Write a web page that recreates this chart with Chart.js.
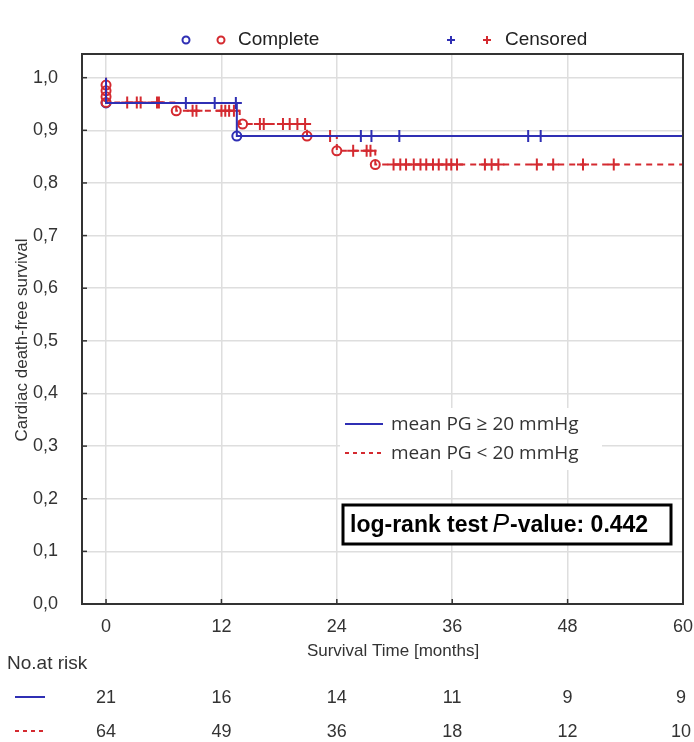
<!DOCTYPE html>
<html>
<head>
<meta charset="utf-8">
<script src="https://cdn.jsdelivr.net/npm/chart.js@4.4.1/dist/chart.umd.min.js"></script>
<style>
  body { margin: 0; background: #fff; }
  #wrap { position: relative; width: 694px; height: 742px; }
</style>
</head>
<body>
<div id="wrap"><canvas id="km"></canvas></div>
<script>
var ctx = document.getElementById("km").getContext('2d');

// Kaplan-Meier steps (time in months, survival)
var blueTimes = [0, 0, 13.6, 60];
var blueSurv = [1.0, 0.952, 0.889, 0.889];
var redTimes = [0, 0, 7.3, 13.9, 20.9, 24.0, 28.0, 60];
var redSurv = [1.0, 0.953, 0.937, 0.912, 0.889, 0.861, 0.835, 0.835];

// censored times
var blueCensor = [8.3, 11.3, 13.5, 26.5, 27.6, 30.5, 43.9, 45.2];
var redCensor = [2.2, 3.2, 3.6, 5.3, 5.5, 9.0, 9.4, 12.0, 12.4, 12.8, 13.3,
    16.0, 16.4, 18.4, 19.1, 19.9, 20.7, 23.3, 25.7, 27.1, 27.5,
    29.9, 30.6, 31.2, 32.0, 32.7, 33.3, 34.0, 34.6, 35.4, 35.9, 36.5,
    39.4, 40.1, 40.8, 44.8, 46.5, 49.6, 52.8];

// complete (event) markers
var blueEventX = [0, 13.6];
var blueEventY = [0.952, 0.889];
var redEventX = [0, 0, 0, 0, 7.3, 14.2, 20.9, 24.0, 28.0];
var redEventY = [0.986, 0.975, 0.964, 0.953, 0.937, 0.912, 0.889, 0.861, 0.835];

// axis ticks and at-risk table
var xTicks = [0, 12, 24, 36, 48, 60];
var yTicks = [0, 0.1, 0.2, 0.3, 0.4, 0.5, 0.6, 0.7, 0.8, 0.9, 1.0];
var riskBlue = [21, 16, 14, 11, 9, 9];
var riskRed = [64, 49, 36, 18, 12, 10];

var BLUE = '#2f2fb4';
var RED = '#d42a30';
var FONT = "'Liberation Sans', Arial, sans-serif";

function pts(xs, ys) { return xs.map(function (x, i) { return {x: x, y: ys[i]}; }); }
function levelAt(times, surv, t) { // survival level on the step curve at time t
    var v = surv[0];
    for (var i = 0; i < times.length; i++) { if (times[i] <= t) v = surv[i]; }
    return v;
}
function censorPts(cs, times, surv) { return cs.map(function (t) { return {x: t, y: levelAt(times, surv, t)}; }); }

var extras = {
    id: 'extras',
    afterDraw: function (chart) {
        var c = chart.ctx, a = chart.chartArea;
        var xs = chart.scales.x, ys = chart.scales.y;
        c.save();
        // frame
        c.strokeStyle = '#333'; c.lineWidth = 2;
        c.strokeRect(a.left, a.top, a.right - a.left, a.bottom - a.top);
        // inward ticks
        c.lineWidth = 1.5;
        xTicks.forEach(function (t) {
            var px = xs.getPixelForValue(t);
            c.beginPath(); c.moveTo(px, a.bottom); c.lineTo(px, a.bottom - 5); c.stroke();
        });
        yTicks.forEach(function (t) {
            var py = ys.getPixelForValue(t);
            c.beginPath(); c.moveTo(a.left, py); c.lineTo(a.left + 5, py); c.stroke();
        });

        // top legend
        c.lineWidth = 2;
        c.strokeStyle = BLUE; c.beginPath(); c.arc(186, 40, 3.5, 0, Math.PI * 2); c.stroke();
        c.strokeStyle = RED; c.beginPath(); c.arc(221, 40, 3.5, 0, Math.PI * 2); c.stroke();
        c.strokeStyle = BLUE; c.beginPath(); c.moveTo(447, 40); c.lineTo(455, 40); c.moveTo(451, 36); c.lineTo(451, 44); c.stroke();
        c.strokeStyle = RED; c.beginPath(); c.moveTo(483, 40); c.lineTo(491, 40); c.moveTo(487, 36); c.lineTo(487, 44); c.stroke();
        c.fillStyle = '#222'; c.font = '19px ' + FONT; c.textBaseline = 'middle'; c.textAlign = 'left';
        c.fillText('Complete', 238, 40);
        c.fillText('Censored', 505, 40);

        // inner legend
        c.fillStyle = '#fff'; c.fillRect(340, 408, 262, 62);
        c.lineWidth = 2; c.strokeStyle = BLUE;
        c.beginPath(); c.moveTo(345, 424); c.lineTo(383, 424); c.stroke();
        c.strokeStyle = RED; c.setLineDash([4, 4]);
        c.beginPath(); c.moveTo(345, 453); c.lineTo(383, 453); c.stroke();
        c.setLineDash([]);
        c.fillStyle = '#333'; c.font = "19px 'Open Sans', sans-serif";
        c.fillText('mean PG \u2265 20 mmHg', 391, 425);
        c.fillText('mean PG < 20 mmHg', 391, 454);

        // p-value box
        c.fillStyle = '#fff'; c.fillRect(343, 505, 328, 39);
        c.strokeStyle = '#000'; c.lineWidth = 3; c.strokeRect(343, 505, 328, 39);
        c.fillStyle = '#000'; c.textAlign = 'left';
        var tx = 350;
        c.font = 'bold 23px ' + FONT;
        c.fillText('log-rank test ', tx, 526); tx += c.measureText('log-rank test ').width - 2;
        c.font = 'italic 25px ' + FONT;
        c.fillText('P', tx, 525); tx += c.measureText('P').width + 1;
        c.font = 'bold 23px ' + FONT;
        c.fillText('-value: 0.442', tx, 526);

        // axis titles
        c.fillStyle = '#333'; c.font = '17px ' + FONT; c.textAlign = 'center';
        c.fillText('Survival Time [months]', 393, 651);
        c.save(); c.translate(22, 340); c.rotate(-Math.PI / 2);
        c.fillText('Cardiac death-free survival', 0, 0);
        c.restore();

        // number at risk
        c.textAlign = 'left'; c.font = '19px ' + FONT;
        c.fillText('No.at risk', 7, 664);
        c.lineWidth = 2; c.strokeStyle = BLUE;
        c.beginPath(); c.moveTo(15, 697); c.lineTo(45, 697); c.stroke();
        c.strokeStyle = RED; c.setLineDash([4, 4]);
        c.beginPath(); c.moveTo(15, 731); c.lineTo(45, 731); c.stroke();
        c.setLineDash([]);
        c.textAlign = 'center'; c.font = '18px ' + FONT;
        xTicks.forEach(function (t, i) {
            var px = Math.min(xs.getPixelForValue(t), 681);
            c.fillText(String(riskBlue[i]), px, 698);
            c.fillText(String(riskRed[i]), px, 732);
        });
        c.restore();
    }
};

var radar = new Chart(ctx, {
    type: 'scatter',
    data: {
        datasets: [
            {data: pts(blueTimes, blueSurv), showLine: true, stepped: true, borderColor: BLUE, borderWidth: 2, pointRadius: 0, fill: false},
            {data: pts(redTimes, redSurv), showLine: true, stepped: true, borderColor: RED, borderWidth: 2, borderDash: [6, 5], pointRadius: 0, fill: false},
            {data: censorPts(blueCensor, blueTimes, blueSurv), showLine: false, pointStyle: 'cross', pointRadius: 6, borderColor: BLUE, borderWidth: 2},
            {data: censorPts(redCensor, redTimes, redSurv), showLine: false, pointStyle: 'cross', pointRadius: 6, borderColor: RED, borderWidth: 2},
            {data: pts(redEventX, redEventY), showLine: false, pointStyle: 'circle', pointRadius: 4.5, borderColor: RED, backgroundColor: 'rgba(0,0,0,0)', borderWidth: 2},
            {data: pts(blueEventX, blueEventY), showLine: false, pointStyle: 'circle', pointRadius: 4.5, borderColor: BLUE, backgroundColor: 'rgba(0,0,0,0)', borderWidth: 2}
        ]
    },
    options: {
        responsive: true,
        maintainAspectRatio: false,
        animation: false,
        layout: {padding: {top: 54, right: 0, bottom: 0, left: 0}},
        plugins: {legend: {display: false}, tooltip: {enabled: false}},
        scales: {
            x: {
                type: 'linear', min: -2.5, max: 60,
                afterFit: function (s) { s.height = 138; s.paddingRight = 11; },
                afterBuildTicks: function (s) { s.ticks = xTicks.map(function (v) { return {value: v}; }); },
                grid: {color: '#dedede', lineWidth: 1.5, drawTicks: false},
                border: {display: false},
                ticks: {padding: 12, color: '#333', font: {family: FONT, size: 18}}
            },
            y: {
                type: 'linear', min: 0, max: 1.045,
                afterFit: function (s) { s.width = 82; },
                afterBuildTicks: function (s) { s.ticks = yTicks.map(function (v) { return {value: v}; }); },
                grid: {color: '#dedede', lineWidth: 1.5, drawTicks: false},
                border: {display: false},
                ticks: {padding: 24, color: '#333', font: {family: FONT, size: 18},
                    callback: function (v) { return v.toFixed(1).replace('.', ','); }}
            }
        }
    },
    plugins: [extras]
});
</script>
</body>
</html>
